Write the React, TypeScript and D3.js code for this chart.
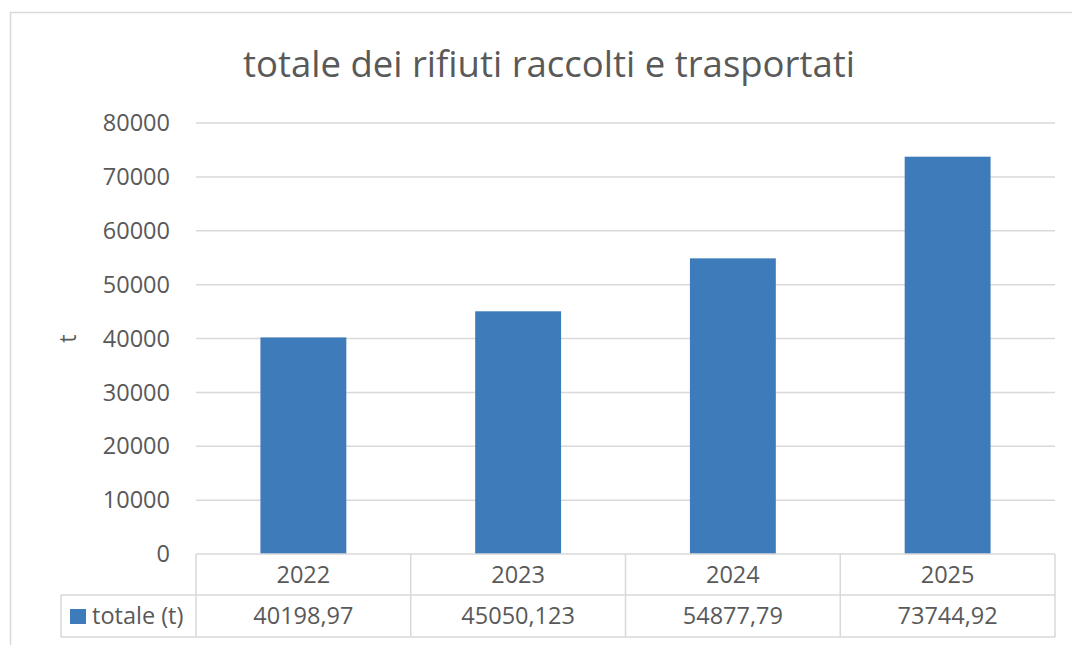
import React from "react";
import * as d3 from "d3";

const categories = ["2022", "2023", "2024", "2025"];
const values = [40198.97, 45050.123, 54877.79, 73744.92];
const valueLabels = ["40198,97", "45050,123", "54877,79", "73744,92"];
const yTicks = [0, 10000, 20000, 30000, 40000, 50000, 60000, 70000, 80000];
const seriesName = "totale (t)";
const title = "totale dei rifiuti raccolti e trasportati";
const yTitle = "t";

const W = 1072;
const H = 645;
const FONT = "'Open Sans', sans-serif";
const TEXT = "#595959";
const GRID = "#D9D9D9";
const BAR = "#3E7BBB";
const FS = 23.5;

export default function App() {
  const x0 = 196, x1 = 1055;
  const yTop = 123, yBottom = 554;
  const x = d3.scaleBand<string>().domain(categories).range([x0, x1]).paddingInner(0.6).paddingOuter(0.3);
  const xc = d3.scaleBand<string>().domain(categories).range([x0, x1]);
  const y = d3.scaleLinear().domain([0, 80000]).range([yBottom, yTop]);
  const row1 = yBottom, row2 = 595, row3 = 637;
  const legendX0 = 61;

  return (
    <svg width={W} height={H} style={{ position: "absolute", left: 0, top: 0, background: "#fff" }} fontFamily={FONT}>
      <rect x={10.5} y={12.5} width={1200} height={800} fill="#fff" stroke={GRID} strokeWidth={1.5} />
      <text x={549} y={77} textAnchor="middle" fontSize={36.5} fill={TEXT}>{title}</text>
      {yTicks.map((t) => (
        <g key={t}>
          {t > 0 && <line x1={x0} x2={x1} y1={y(t)} y2={y(t)} stroke={GRID} strokeWidth={1.5} />}
          <text x={170} y={y(t)} dy="0.35em" textAnchor="end" fontSize={FS} fill={TEXT}>{t}</text>
        </g>
      ))}
      <text transform={`translate(68,${(yTop + yBottom) / 2}) rotate(-90)`} textAnchor="middle" dy="0.35em" fontSize={FS} fill={TEXT}>{yTitle}</text>
      {categories.map((c, i) => (
        <rect key={c} x={x(c)!} width={x.bandwidth()} y={y(values[i])} height={yBottom - y(values[i])} fill={BAR} />
      ))}
      {/* data table */}
      <g stroke={GRID} strokeWidth={1.5} fill="none">
        <line x1={x0} x2={x1} y1={row1} y2={row1} />
        <line x1={legendX0} x2={x1} y1={row2} y2={row2} />
        <line x1={legendX0} x2={x1} y1={row3} y2={row3} />
        <line x1={legendX0} x2={legendX0} y1={row2} y2={row3} />
        {categories.map((c) => (
          <line key={c} x1={xc(c)!} x2={xc(c)!} y1={row1} y2={row3} />
        ))}
        <line x1={x1} x2={x1} y1={row1} y2={row3} />
      </g>
      {categories.map((c, i) => (
        <g key={c}>
          <text x={xc(c)! + xc.bandwidth() / 2} y={(row1 + row2) / 2} dy="0.35em" textAnchor="middle" fontSize={FS} fill={TEXT}>{c}</text>
          <text x={xc(c)! + xc.bandwidth() / 2} y={(row2 + row3) / 2} dy="0.35em" textAnchor="middle" fontSize={FS} fill={TEXT}>{valueLabels[i]}</text>
        </g>
      ))}
      <rect x={70} y={609} width={16} height={15} fill={BAR} />
      <text x={92} y={(row2 + row3) / 2} dy="0.35em" fontSize={FS} fill={TEXT}>{seriesName}</text>
    </svg>
  );
}
